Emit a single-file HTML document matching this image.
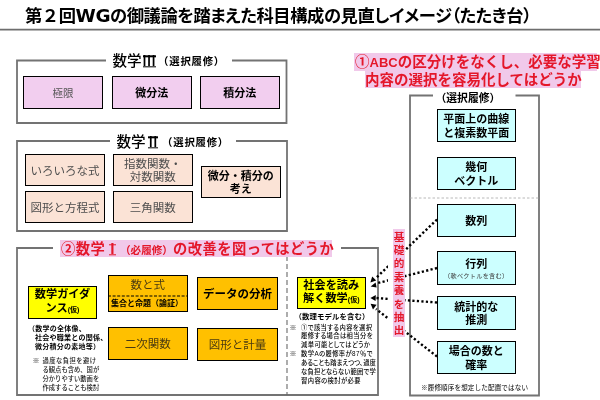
<!DOCTYPE html>
<html lang="ja">
<head>
<meta charset="utf-8">
<title>科目構成の見直しイメージ</title>
<style>
html,body{margin:0;padding:0;background:#fff;}
body{width:600px;height:400px;overflow:hidden;position:relative;font-family:"Liberation Sans","Noto Sans CJK JP",sans-serif;color:#000;}
#stage{position:absolute;left:0;top:0;width:600px;height:400px;overflow:hidden;will-change:transform;}
.t{position:absolute;white-space:nowrap;line-height:1;transform:translateY(0.09em);font-family:"Liberation Sans","Noto Sans CJK JP",sans-serif;}
.bx{position:absolute;box-sizing:border-box;border:1.7px solid #000;padding-top:0.18em;display:flex;align-items:center;justify-content:center;text-align:center;font-family:"Liberation Sans","Noto Sans CJK JP",sans-serif;line-height:1.3;}
.pk{background:#f2ceef;}
.or{background:#fbe3d6;}
.am{background:#ffc000;}
.yl{background:#ffff00;}
.cy{background:#ccffff;}
.hl{position:absolute;background:#f1c9ea;}
.red{color:#e4172a;font-weight:700;}
svg{position:absolute;left:0;top:0;}
.rn{font-weight:500;position:relative;display:inline-block;}
.rn::before,.rn::after{content:"";position:absolute;left:var(--l,0.18em);right:var(--r,0.17em);height:0.075em;background:currentColor;}
.rn::before{top:0.135em;}
.rn::after{top:0.83em;}
</style>
</head>
<body>
<div id="stage">

<!-- title -->
<div class="t" id="title" style="left:25px;top:5px;font-size:17.3px;font-weight:700;font-feature-settings:'palt';letter-spacing:-0.43px;">第<span style="font-feature-settings:normal;">２</span>回<span style="font-family:'DejaVu Sans','Liberation Sans',sans-serif;font-size:18.4px;">WG</span>の御議論を踏まえた科目構成の見直しイメージ（たたき台）</div>

<svg width="600" height="400" viewBox="0 0 600 400">
  <!-- title rule -->
  <line x1="0" y1="29.6" x2="600" y2="29.6" stroke="#6e6e6e" stroke-width="1.8"/>
  <!-- group Math III -->
  <polyline points="106,60.5 17,60.5 17,123 286.5,123 286.5,60.5 232,60.5" fill="none" stroke="#737373" stroke-width="1.8"/>
  <!-- group Math II -->
  <polyline points="110,141 17,141 17,231 287,231 287,141 236,141" fill="none" stroke="#737373" stroke-width="1.8"/>
  <!-- group Math I -->
  <polyline points="53,248 17,248 17,395 378,395 378,248 341,248" fill="none" stroke="#737373" stroke-width="1.8"/>
  <line x1="287" y1="256" x2="287" y2="395" stroke="#6a6a6a" stroke-width="1.1" stroke-dasharray="5 3"/>
  <!-- right group -->
  <polyline points="433,95.5 410,95.5 410,395.5 539,395.5 539,95.5 515.5,95.5" fill="none" stroke="#737373" stroke-width="1.8"/>
  <line x1="410" y1="198" x2="539" y2="198" stroke="#a6a6a6" stroke-width="0.8" stroke-dasharray="2.5 2"/>
  <g stroke="#000" stroke-width="2.4" stroke-dasharray="2.2 2.3" fill="none">
    <line x1="437" y1="219.5" x2="376" y2="278"/>
    <line x1="437" y1="268" x2="376" y2="283.5"/>
    <line x1="437" y1="302.5" x2="376" y2="298"/>
    <line x1="437" y1="356.5" x2="376" y2="309"/>
  </g>
  <g fill="#000">
    <path d="M370.4,282.6 L372.2,276.6 L376.2,280.4 Z"/>
    <path d="M370.6,286.6 L375.6,282.4 L376.6,287.6 Z"/>
    <path d="M370.4,298 L375.8,295 L375.6,301 Z"/>
    <path d="M370.6,303.8 L376.6,304.8 L373,309.6 Z"/>
  </g>
</svg>

<!-- Math III -->
<div class="t" style="left:112.5px;top:52.5px;font-size:14.6px;font-weight:500;">数学<span class="rn" style="--l:0.07em;--r:0.05em;">Ⅲ</span></div>
<div class="t" style="left:158.5px;top:56px;font-size:10.4px;font-weight:700;letter-spacing:0.75px;margin-left:-0.4px;margin-top:0.3px;">（選択履修）</div>
<div class="bx pk" style="left:23px;top:76px;width:80px;height:33px;font-size:10.5px;color:#555;">極限</div>
<div class="bx pk" style="left:112px;top:76px;width:79.5px;height:33px;font-size:11px;font-weight:700;">微分法</div>
<div class="bx pk" style="left:199.5px;top:76px;width:80.5px;height:33px;font-size:11px;font-weight:700;">積分法</div>

<!-- Math II -->
<div class="t" style="left:116.5px;top:133.5px;font-size:14.6px;font-weight:500;">数学<span class="rn">Ⅱ</span></div>
<div class="t" style="left:162.5px;top:137px;font-size:10.4px;font-weight:700;letter-spacing:0.75px;margin-left:-0.4px;margin-top:0.3px;">（選択履修）</div>
<div class="bx or" style="left:25px;top:154px;width:80px;height:32px;font-size:11.5px;color:#4d4d4d;">いろいろな式</div>
<div class="bx or" style="left:113px;top:154px;width:79.5px;height:32px;font-size:11.5px;color:#4d4d4d;line-height:13.2px;">指数関数・<br>対数関数</div>
<div class="bx or" style="left:201px;top:165.5px;width:79.5px;height:32.5px;font-size:11px;font-weight:700;line-height:12.8px;">微分・積分の<br>考え</div>
<div class="bx or" style="left:25px;top:191px;width:80px;height:32px;font-size:11.5px;color:#4d4d4d;">図形と方程式</div>
<div class="bx or" style="left:113px;top:191px;width:79.5px;height:32px;font-size:11.5px;color:#4d4d4d;">三角関数</div>

<!-- Math I header -->
<div class="hl" style="left:60px;top:239.5px;width:272px;height:17.5px;"></div>
<div class="t red" style="left:61px;top:241px;font-size:14.3px;letter-spacing:0.45px;">②数学<span class="rn" style="--l:0.27em;--r:0.27em;font-weight:700;">Ⅰ</span><span style="font-size:10.6px;letter-spacing:0;">（必履修）</span>の改善を図ってはどうか</div>

<!-- Math I boxes -->
<div class="bx yl" style="left:28px;top:286px;width:69px;height:33px;font-size:11.2px;font-weight:700;line-height:13.8px;"><div style="margin-top:-2px;">数学ガイダ<br>ンス<span style="font-size:7px;">(仮)</span></div></div>
<div class="bx am" style="left:107.5px;top:274.5px;width:80.5px;height:37px;"></div>
<div class="t" style="left:108px;top:279px;width:79.5px;text-align:center;font-size:11.5px;color:#4a3a10;">数と式</div>
<div class="t" style="left:108px;top:298.8px;width:79.5px;text-align:center;font-size:8px;font-weight:700;text-indent:-1.5px;">集合と命題（論証）</div>
<div class="bx am" style="left:197px;top:277px;width:81px;height:33px;font-size:11.5px;font-weight:700;">データの分析</div>
<div class="bx am" style="left:107.5px;top:326.8px;width:80.5px;height:33.2px;font-size:11.5px;color:#4a3a10;">二次関数</div>
<div class="bx am" style="left:197px;top:328px;width:81px;height:32.5px;font-size:11.5px;color:#4a3a10;">図形と計量</div>
<div class="bx yl" style="left:297px;top:276.5px;width:68.5px;height:32.5px;font-size:11.2px;font-weight:700;line-height:12.8px;"><div style="margin-top:-1px;">社会を読み<br>解く数学<span style="font-size:7px;">(仮)</span></div></div>

<!-- small notes left -->
<div class="t" style="left:28px;top:322.5px;font-size:7px;font-weight:700;line-height:9.3px;letter-spacing:0.25px;">（数学の全体像、</div>
<div class="t" style="left:35px;top:331.8px;font-size:7px;font-weight:700;line-height:9.3px;letter-spacing:0.25px;">社会や職業との関係、<br>微分積分の素地等）</div>
<div class="t" style="left:32.5px;top:354.5px;font-size:7px;font-weight:400;line-height:9px;">※</div>
<div class="t" style="left:42.5px;top:354.5px;font-size:6.3px;font-weight:500;line-height:9px;color:#1a1a1a;"><span style="letter-spacing:0.45px;">過度な負担を避け</span><br>る観点も含め、国が<br>分かりやすい動画を<br>作成することも検討</div>

<!-- small notes mid -->
<div class="t" style="left:294.5px;top:311px;font-size:7.4px;letter-spacing:0.1px;font-weight:700;line-height:9px;">（数理モデルを含む）</div>
<div class="t" style="left:289.5px;top:322.5px;font-size:7px;font-weight:400;line-height:8.85px;">※<br><br><br>※</div>
<div class="t" id="n2" style="left:301px;top:322.5px;font-size:6.3px;font-weight:500;line-height:8.85px;font-feature-settings:'palt';letter-spacing:0.4px;">①で該当する内容を選択<br>履修する場合は相当分を<br>減単可能としてはどうか<br>数学Aの履修率が87％で<br><span style="letter-spacing:0.1px;">あることも踏まえつつ、過度</span><br><span style="letter-spacing:0.2px;">な負担とならない範囲で学</span><br>習内容の検討が必要</div>

<!-- top-right red header -->
<div class="hl" style="left:354px;top:53px;width:243px;height:17.5px;"></div>
<div class="hl" style="left:364.5px;top:70px;width:216.5px;height:17.5px;"></div>
<div class="t red" style="left:355px;top:54px;font-size:14.5px;">①<span style="font-family:'Liberation Sans',sans-serif;font-size:13px;">ABC</span>の区分けをなくし、必要な学習</div>
<div class="t red" style="left:365px;top:71.5px;font-size:14.5px;">内容の選択を容易化してはどうか</div>

<!-- right group -->
<div class="t" style="left:435.5px;top:92px;font-size:10.8px;font-weight:700;">（選択履修）</div>
<div class="bx cy" style="left:437px;top:108.8px;width:78.5px;height:33.5px;font-size:11px;font-weight:700;line-height:13.5px;">平面上の曲線<br>と複素数平面</div>
<div class="bx cy" style="left:437px;top:156.5px;width:78.5px;height:33px;font-size:11px;font-weight:700;line-height:14px;">幾何<br>ベクトル</div>
<div class="bx cy" style="left:437px;top:204px;width:78.5px;height:32.5px;font-size:11px;font-weight:700;">数列</div>
<div class="bx cy" style="left:437px;top:251px;width:78.5px;height:33.5px;font-size:11px;font-weight:700;"><div style="line-height:13px;margin-top:1px;">行列<br><span style="font-size:6.2px;font-weight:400;color:#3a3a3a;letter-spacing:0.25px;display:block;line-height:10px;">（軟ベクトルを含む）</span></div></div>
<div class="bx cy" style="left:437px;top:296px;width:78.5px;height:33.5px;font-size:11px;font-weight:700;line-height:13px;">統計的な<br>推測</div>
<div class="bx cy" style="left:437px;top:340.5px;width:78.5px;height:33.5px;font-size:11px;font-weight:700;line-height:14.2px;">場合の数と<br>確率</div>
<div class="t" style="left:421px;top:384px;font-size:6.6px;font-weight:400;letter-spacing:0.1px;">※履修順序を想定した配置ではない</div>

<!-- vertical red text -->
<div style="position:absolute;left:388.2px;top:228.7px;width:5.2px;height:108px;background:#fff;"></div>
<div class="hl" style="left:393.3px;top:228.7px;width:11.5px;height:108px;"></div>
<div class="t red" style="left:393.3px;top:229.5px;width:11.5px;font-size:10.6px;line-height:13.4px;text-align:center;">基<br>礎<br>的<br>素<br>養<br>を<br>抽<br>出</div>

<svg width="600" height="400" viewBox="0 0 600 400">
  <line x1="108" y1="296" x2="187.5" y2="296" stroke="#000" stroke-width="1.1" stroke-dasharray="3 1.6"/>
</svg>

</div>
</body>
</html>
